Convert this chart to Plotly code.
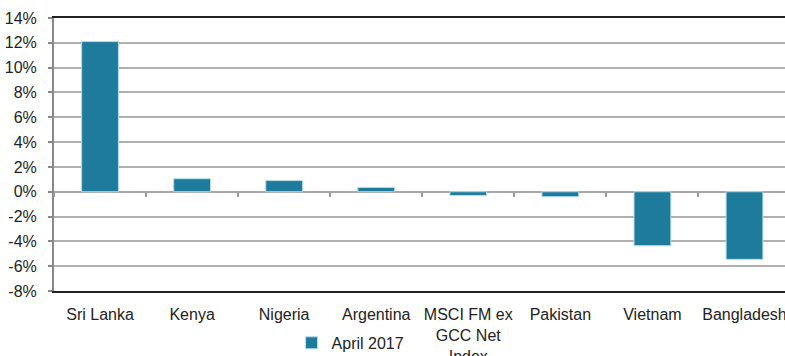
import plotly.graph_objects as go

categories = ["Sri Lanka", "Kenya", "Nigeria", "Argentina", "MSCI FM ex<br>GCC Net<br>Index",
              "Pakistan", "Vietnam", "Bangladesh"]
april_2017 = [12.1, 1.05, 0.9, 0.35, -0.3, -0.4, -4.35, -5.45]
y_tickvals = [-8, -6, -4, -2, 0, 2, 4, 6, 8, 10, 12, 14]
y_ticktext = [f"{v}%" for v in y_tickvals]
series_name = "April 2017"

ymin, ymax = -8, 14
font = dict(family="Liberation Sans, Arial, sans-serif", size=16, color="#222222")

fig = go.Figure()
fig.add_trace(go.Bar(
    x=categories, y=april_2017, name=series_name, width=0.4,
    marker=dict(color="#1F7B9B", line=dict(color="#B5DCEB", width=1)),
    showlegend=True,
))
fig.add_trace(go.Scatter(
    x=categories, y=[None] * len(categories), xaxis="x2", mode="markers",
    showlegend=False, hoverinfo="skip",
))

fig.update_layout(
    width=785, height=356,
    margin=dict(l=54, r=0, t=18, b=65, autoexpand=False),
    paper_bgcolor="white", plot_bgcolor="white",
    font=font,
    showlegend=True,
    legend=dict(orientation="h", x=0.325, xanchor="left", y=-0.19, yanchor="middle",
                font=font, bgcolor="rgba(0,0,0,0)", itemwidth=30),
    xaxis=dict(type="category", range=[-0.5, 7.44], showline=True, linecolor="#222222",
               linewidth=2, mirror=True, showgrid=False, ticks="", ticklabelstandoff=8,
               tickfont=font, zeroline=False, automargin=False),
    xaxis2=dict(type="category", overlaying="x", anchor="free",
                position=(0 - ymin) / (ymax - ymin), range=[-0.5, 7.44],
                tickson="boundaries", ticks="outside", ticklen=4, tickcolor="#999999",
                tickwidth=1.5, showticklabels=False, showline=False, showgrid=False,
                zeroline=False),
    yaxis=dict(range=[ymin, ymax], tickvals=y_tickvals, ticktext=y_ticktext,
               showgrid=True, gridcolor="#B0B0B0", gridwidth=1.5,
               showline=True, linecolor="#888888", linewidth=2,
               ticks="outside", ticklen=4, tickcolor="#888888", tickwidth=1.5,
               zeroline=True, zerolinecolor="#A8A8A8", zerolinewidth=2,
               tickfont=font, ticklabelstandoff=8, automargin=False),
    bargap=0.6,
)

fig.write_html("out.html", config={"displayModeBar": False},
               post_script="document.body.style.margin='0';document.body.style.overflow='hidden';")
